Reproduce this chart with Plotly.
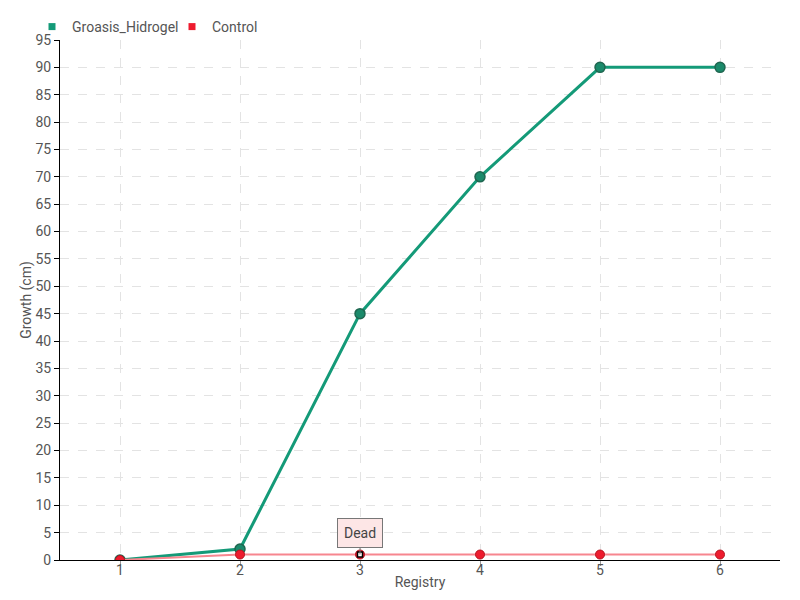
import plotly.graph_objects as go

registry = [1, 2, 3, 4, 5, 6]
groasis = [0, 2, 45, 70, 90, 90]
control = [0, 1, 1, 1, 1, 1]
y_ticks = list(range(0, 100, 5))
dead_index = 2
dead_label = "Dead"

FONT = "Roboto, sans-serif"
GREEN = "#149a78"
RED = "#ee1b2e"

fig = go.Figure()
fig.add_trace(go.Scatter(
    x=registry, y=groasis, name="Groasis_Hidrogel", mode="lines+markers", showlegend=False,
    line=dict(color=GREEN, width=3),
    marker=dict(size=10, color="#1b8a6b", line=dict(color="#1f6650", width=1.5)),
))
fig.add_trace(go.Scatter(
    x=registry, y=control, name="Control", mode="lines+markers", showlegend=False,
    line=dict(color="#f7868f", width=2),
    marker=dict(size=9, color=RED, line=dict(color="#b5141f", width=1)),
))
fig.add_trace(go.Scatter(
    x=[registry[dead_index]], y=[control[dead_index]], mode="markers", showlegend=False,
    marker=dict(size=5, color="white", symbol="square", line=dict(color="black", width=1.5)),
    hoverinfo="skip",
))
# legend entries (square swatches)
fig.add_trace(go.Scatter(x=[None], y=[None], name="Groasis_Hidrogel", mode="markers",
                         marker=dict(symbol="square", size=7, color=GREEN)))
fig.add_trace(go.Scatter(x=[None], y=[None], name="Control", mode="markers",
                         marker=dict(symbol="square", size=7, color=RED)))

fig.add_annotation(
    x=registry[dead_index], y=control[dead_index], text=dead_label,
    showarrow=True, arrowhead=0, arrowcolor="#777", arrowwidth=1, ax=0, ay=-22,
    bgcolor="#fde6e6", bordercolor="#777", borderwidth=1, borderpad=6,
    font=dict(family=FONT, size=14, color="#444"),
)

fig.update_layout(
    width=800, height=600,
    paper_bgcolor="white", plot_bgcolor="white",
    margin=dict(l=52, r=28, t=32, b=48, autoexpand=False),
    font=dict(family=FONT, size=14, color="#555"),
    showlegend=True,
    legend=dict(orientation="h", x=0.03, xref="container", y=0.995, yref="container",
                xanchor="left", yanchor="top", font=dict(size=14, color="#555"),
                itemwidth=30, entrywidth=95, entrywidthmode="pixels",
                tracegroupgap=0, bgcolor="rgba(0,0,0,0)"),
    xaxis=dict(
        range=[0.5, 6.5], tickvals=registry, automargin=False,
        title=dict(text="Registry", standoff=0, font=dict(size=14)),
        showline=True, linecolor="black", linewidth=1, ticks="outside", ticklen=5, tickcolor="#999",
        ticklabelstandoff=-8,
        showgrid=True, gridcolor="#e3e3e3", griddash="dash", zeroline=False,
    ),
    yaxis=dict(
        range=[0, 95], tickvals=y_ticks, automargin=False,
        title=dict(text="Growth (cm)", standoff=0, font=dict(size=14)),
        showline=True, linecolor="black", linewidth=1, ticks="outside", ticklen=5, tickcolor="black",
        showgrid=True, gridcolor="#e3e3e3", griddash="dash", zeroline=False,
    ),
)

fig.write_html("out.html")
